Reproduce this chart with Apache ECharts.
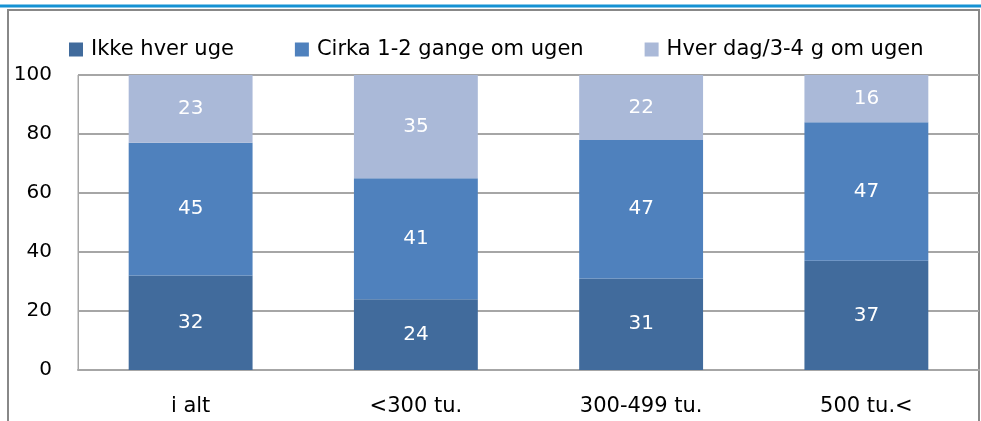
<!DOCTYPE html>
<html>
<head>
<meta charset="utf-8">
<script src="https://cdn.jsdelivr.net/npm/echarts@6/dist/echarts.min.js"></script>
<style>
  html, body { margin: 0; padding: 0; background: #fff; }
  #chart { width: 981px; height: 421px; }
</style>
</head>
<body>
<div id="chart"></div>
<script>
// data
const categories = ["i alt", "<300 tu.", "300-499 tu.", "500 tu.<"];
const seriesNames = ["Ikke hver uge", "Cirka 1-2 gange om ugen", "Hver dag/3-4 g om ugen"];
const ikkeHverUge = [32, 24, 31, 37];
const cirka12 = [45, 41, 47, 47];
const hverDag = [23, 35, 22, 16];
const yTicks = [0, 20, 40, 60, 80, 100];

const colors = ["#416b9c", "#4f81bd", "#aab9d8"];
const font = "'DejaVu Sans', sans-serif";

const chart = echarts.init(document.getElementById("chart"));

function barSeries(name, data, color) {
    return {
        name: name,
        type: "bar",
        stack: "total",
        data: data,
        barWidth: "55%",
        itemStyle: { color: color },
        label: {
            show: true,
            position: "inside",
            color: "#fff",
            fontSize: 20,
            fontFamily: font
        },
        animation: false
    };
}

chart.setOption({
    animation: false,
    textStyle: { fontFamily: font },
    graphic: [
        {
            type: "line",
            shape: { x1: 0, y1: 6, x2: 981, y2: 6 },
            style: { stroke: "#1592d4", lineWidth: 3 }
        },
        {
            type: "rect",
            shape: { x: 8, y: 10, width: 971, height: 430 },
            style: { fill: "none", stroke: "#888", lineWidth: 2 }
        }
    ],
    legend: {
        data: seriesNames,
        left: 69,
        top: 39,
        padding: 0,
        itemWidth: 14,
        itemHeight: 14,
        itemGap: 61,
        icon: "rect",
        textStyle: { fontSize: 21, color: "#000", fontFamily: font, padding: [0, 0, 0, 3] }
    },
    grid: {
        left: 78,
        right: 2,
        top: 75,
        bottom: 51,
        show: true,
        borderColor: "#a6a6a6",
        borderWidth: 1,
        containLabel: false
    },
    xAxis: {
        type: "category",
        data: categories,
        axisLine: { lineStyle: { color: "#a6a6a6", width: 2 } },
        axisTick: { show: false },
        axisLabel: { fontSize: 21, color: "#000", margin: 26, fontFamily: font }
    },
    yAxis: {
        type: "value",
        min: yTicks[0],
        max: yTicks[yTicks.length - 1],
        interval: 20,
        axisLine: { show: true, lineStyle: { color: "#a6a6a6", width: 1 } },
        axisTick: { show: false },
        splitLine: { lineStyle: { color: "#a6a6a6", width: 2 } },
        axisLabel: { fontSize: 20, color: "#000", margin: 26, fontFamily: font }
    },
    series: [
        barSeries(seriesNames[0], ikkeHverUge, colors[0]),
        barSeries(seriesNames[1], cirka12, colors[1]),
        barSeries(seriesNames[2], hverDag, colors[2])
    ]
});
</script>
</body>
</html>
